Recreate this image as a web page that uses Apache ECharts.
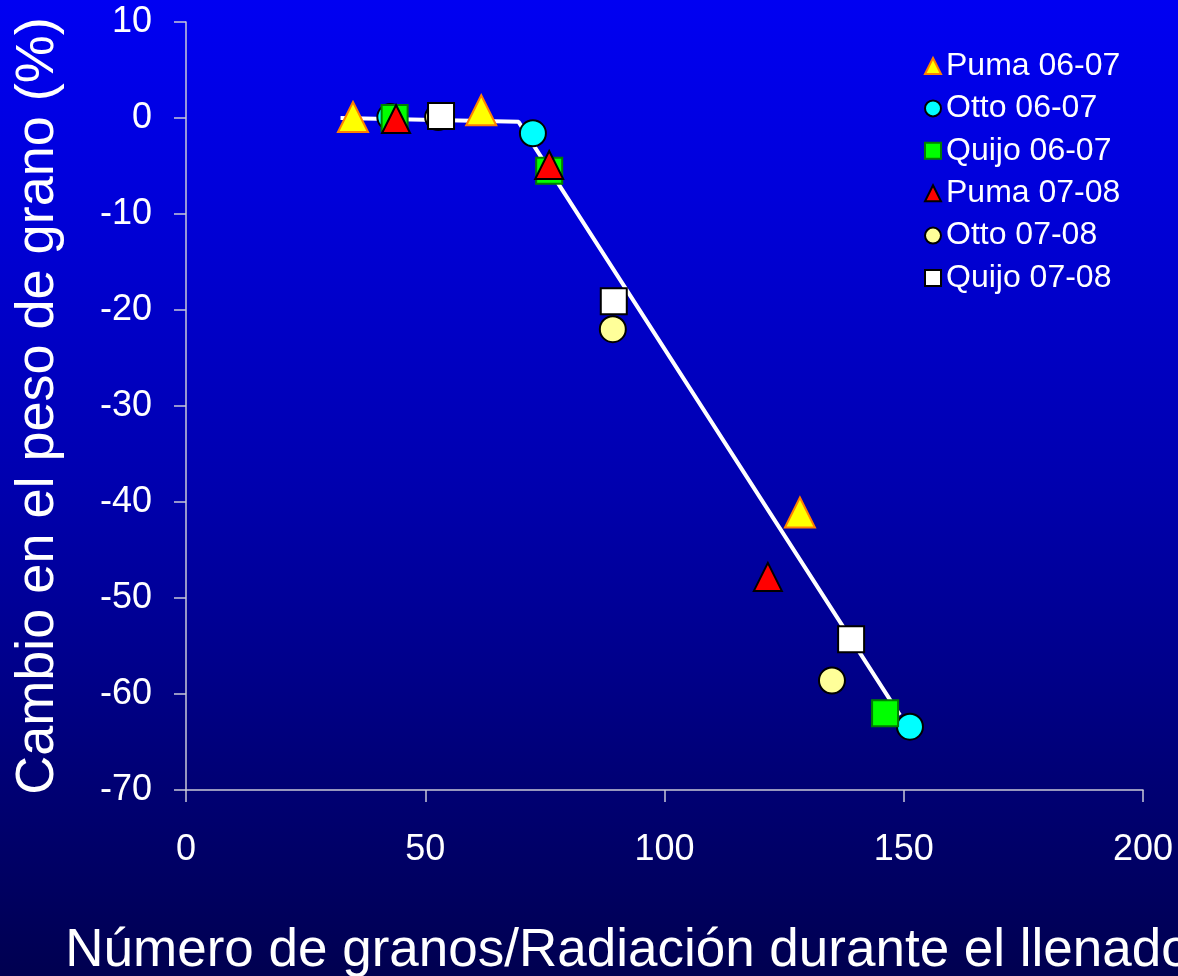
<!DOCTYPE html>
<html>
<head>
<meta charset="utf-8">
<script src="https://cdn.jsdelivr.net/npm/echarts@6/dist/echarts.min.js"></script>
<style>html,body{margin:0;padding:0;}#c{width:1178px;height:976px;}</style>
</head>
<body>
<div id="c"></div>
<script>
const seriesNames = ['Puma 06-07','Otto 06-07','Quijo 06-07','Puma 07-08','Otto 07-08','Quijo 07-08'];
const puma0607 = [[34.9,0.1],[61.7,0.8],[128.3,-41.1]];
const otto0607 = [[42.7,0.1],[72.5,-1.6],[151.3,-63.4]];
const quijo0607 = [[43.6,0.0],[75.9,-5.5],[146.1,-62.0]];
const puma0708 = [[43.9,-0.1],[75.9,-4.9],[121.6,-47.8]];
const otto0708 = [[52.7,0.1],[89.2,-22.0],[135.0,-58.6]];
const quijo0708 = [[53.3,0.2],[89.4,-19.1],[139.0,-54.3]];
const fitLine = [[32.3,0.0],[69.5,-0.4],[149.2,-62.2]];
const xTicks = [0,50,100,150,200];
const yTicks = [10,0,-10,-20,-30,-40,-50,-60,-70];

const FONT = 'Liberation Sans, Arial, sans-serif';
const chart = echarts.init(document.getElementById('c'));

function sc(name, data, symbol, size, fill, border, bw) {
  return {
    name: name, type: 'scatter', data: data, symbol: symbol, symbolSize: size, z: 5,
    itemStyle: {color: fill, borderColor: border, borderWidth: bw, opacity: 1}
  };
}

chart.setOption({
  backgroundColor: {
    type: 'linear', x: 0, y: 0, x2: 0, y2: 1,
    colorStops: [
      {offset: 0, color: '#0000F2'},
      {offset: 0.2, color: '#0000DA'},
      {offset: 0.5, color: '#0000AE'},
      {offset: 0.78, color: '#000078'},
      {offset: 1, color: '#000050'}
    ]
  },
  animation: false,
  grid: {left: 186, top: 22, right: 35, bottom: 186, containLabel: false, outerBoundsMode: 'none'},
  legend: {
    orient: 'vertical', left: 919, top: 45, itemGap: 10.4,
    itemWidth: 16, itemHeight: 16,
    textStyle: {color: '#FFFFFF', fontSize: 32, fontFamily: FONT},
    data: seriesNames
  },
  xAxis: {
    type: 'value', min: 0, max: 200, interval: 50,
    name: 'Número de granos/Radiación durante el llenado',
    nameLocation: 'middle', nameGap: 135,
    nameTextStyle: {color: '#FFFFFF', fontSize: 53, fontFamily: FONT, padding: [0, 73, 0, 0]},
    axisLine: {show: true, onZero: false, lineStyle: {color: '#C8C8D8', width: 1.5}},
    axisTick: {show: true, inside: false, length: 12, lineStyle: {color: '#C8C8D8', width: 1.5}},
    axisLabel: {color: '#FFFFFF', fontSize: 36, fontFamily: FONT, margin: 42,
      formatter: v => xTicks.includes(v) ? String(v) : ''},
    splitLine: {show: false}
  },
  yAxis: {
    type: 'value', min: -70, max: 10, interval: 10,
    name: 'Cambio en el peso de grano (%)',
    nameLocation: 'middle', nameGap: 121, nameRotate: 90,
    nameTextStyle: {color: '#FFFFFF', fontSize: 54, fontFamily: FONT},
    axisLine: {show: true, onZero: false, lineStyle: {color: '#C8C8D8', width: 1.5}},
    axisTick: {show: true, inside: false, length: 12, lineStyle: {color: '#C8C8D8', width: 1.5}},
    axisLabel: {color: '#FFFFFF', fontSize: 36, fontFamily: FONT, margin: 34,
      formatter: v => yTicks.includes(v) ? String(v) : ''},
    splitLine: {show: false}
  },
  series: [
    {
      name: 'fit', type: 'line', data: fitLine, showSymbol: false, symbol: 'none', z: 2,
      lineStyle: {color: '#FFFFFF', width: 4}, silent: true
    },
    sc(seriesNames[0], puma0607, 'triangle', 30, '#FFFF00', '#FF7F00', 2),
    sc(seriesNames[1], otto0607, 'circle', 26, '#00FFFF', '#000000', 2),
    sc(seriesNames[2], quijo0607, 'rect', 26, '#00FF00', '#008000', 2),
    sc(seriesNames[3], puma0708, 'triangle', 28, '#FF0000', '#000000', 2),
    sc(seriesNames[4], otto0708, 'circle', 26, '#FFFF99', '#000000', 2),
    sc(seriesNames[5], quijo0708, 'rect', 26, '#FFFFFF', '#000000', 2)
  ]
});
</script>
</body>
</html>
